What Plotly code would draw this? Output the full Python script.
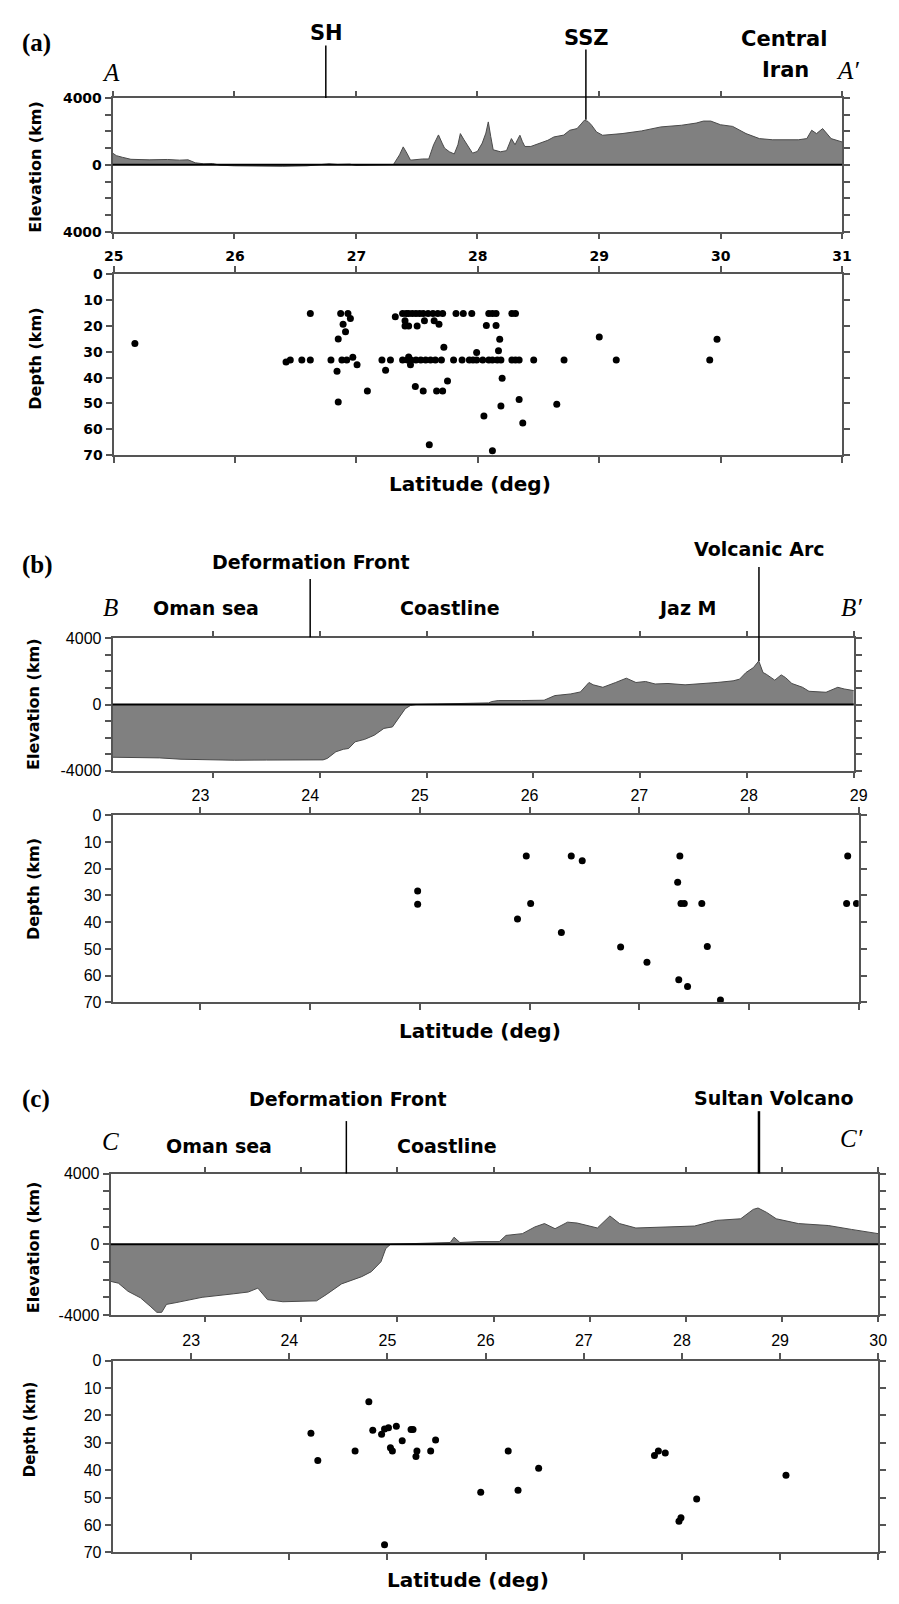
import plotly.graph_objects as go

W, H = 899, 1604


def px(x):
    return x / W


def py(y):
    return 1 - y / H


# ---------------- DATA ----------------
# Panel (a) topography profile A-A'
elev_lat_a = [25.0, 25.03, 25.08, 25.15, 25.3, 25.45, 25.55, 25.62, 25.68, 25.75, 25.82, 25.88, 26.0, 26.2,
              26.4, 26.6, 26.72, 26.78, 26.85, 26.95, 27.0, 27.1, 27.2, 27.31, 27.36, 27.39, 27.42, 27.45,
              27.55, 27.6, 27.64, 27.68, 27.71, 27.73, 27.77, 27.81, 27.84, 27.86, 27.89, 27.93, 27.96, 28.0,
              28.04, 28.07, 28.09, 28.11, 28.13, 28.19, 28.24, 28.28, 28.31, 28.33, 28.35, 28.37, 28.39, 28.44,
              28.5, 28.58, 28.63, 28.71, 28.76, 28.82, 28.86, 28.88, 28.91, 28.94, 28.98, 29.03, 29.19, 29.35,
              29.51, 29.68, 29.8, 29.86, 29.92, 30.0, 30.1, 30.21, 30.32, 30.43, 30.64, 30.71, 30.75, 30.79,
              30.84, 30.91, 31.0]
elev_a = [700, 550, 450, 330, 300, 320, 280, 300, 120, 60, 80, -20, -60, -80,
          -90, -60, 0, 60, 20, 40, -30, -20, 0, 20, 600, 1075, 700, 280,
          350, 350, 1200, 1790, 1300, 1000, 780, 650, 1200, 1870, 1500, 1000, 700, 800,
          1300, 1900, 2570, 1700, 900, 780, 850, 1570, 1200, 1500, 1770, 1400, 1100, 1100,
          1250, 1470, 1670, 1780, 2070, 2170, 2500, 2670, 2600, 2370, 1970, 1770, 1870, 2030,
          2270, 2370, 2500, 2620, 2620, 2400, 2300, 1870, 1570, 1500, 1500, 1570, 2070, 1870,
          2170, 1570, 1370]

# Panel (a) earthquake hypocentres
quake_lat_a = [25.175, 26.42, 26.455, 26.55, 26.62, 26.62, 26.79, 26.84, 26.85, 26.85, 26.87, 26.88, 26.89,
               26.91, 26.92, 26.93, 26.95, 26.97, 27.005, 27.09, 27.21, 27.24, 27.28, 27.32,
               27.38, 27.41, 27.43, 27.46, 27.49, 27.52, 27.55, 27.59, 27.63, 27.67, 27.71, 27.82, 27.88,
               27.95, 28.09, 28.12, 28.15, 28.28, 28.31,
               27.40, 27.56, 27.64,
               27.40, 27.43, 27.50, 27.68, 28.07, 28.15,
               28.18, 27.72, 27.99, 28.17, 27.43,
               27.38, 27.42, 27.45, 27.49, 27.53, 27.57, 27.61, 27.65, 27.70, 27.80, 27.87, 27.93, 27.96,
               27.99, 28.04, 28.09, 28.12, 28.16, 28.19, 28.28, 28.31, 28.34, 28.46, 28.71, 29.14, 29.91,
               27.445, 27.485, 27.55, 27.66, 27.71, 27.60, 27.75, 29.0, 29.97, 28.2, 28.34, 28.19, 28.65,
               28.05, 28.37, 28.12]
quake_dep_a = [26.8, 34, 33.2, 33.2, 33.2, 15.2, 33.2, 37.5, 25.1, 49.4, 15.2, 33.2, 19.4,
               22.3, 33.2, 15.2, 17.1, 32.1, 35, 45.2, 33.2, 37.2, 33.2, 16.5,
               15.2, 15.2, 15.2, 15.2, 15.2, 15.2, 15.2, 15.2, 15.2, 15.2, 15.2, 15.2, 15.2,
               15.2, 15.2, 15.2, 15.2, 15.2, 15.2,
               18, 18, 18,
               20, 20, 20, 19.4, 19.9, 19.9,
               25.2, 28.3, 30.3, 29.6, 32,
               33.2, 33.2, 33.2, 33.2, 33.2, 33.2, 33.2, 33.2, 33.2, 33.2, 33.2, 33.2, 33.2,
               33.2, 33.2, 33.2, 33.2, 33.2, 33.2, 33.2, 33.2, 33.2, 33.2, 33.2, 33.2, 33.2,
               35, 43.4, 45.2, 45.2, 45.2, 66, 41.3, 24.3, 25.2, 40.2, 48.5, 51, 50.3,
               54.8, 57.5, 68.3]

# Panel (b) topography profile B-B'
elev_lat_b = [22.06, 22.3, 22.5, 22.7, 22.93, 23.2, 23.5, 23.8, 24.03, 24.07, 24.15, 24.22, 24.27, 24.33,
              24.42, 24.51, 24.6, 24.68, 24.74, 24.8, 24.85, 24.9, 25.1, 25.3, 25.5, 25.58, 25.61, 25.67,
              25.89, 26.1, 26.2, 26.35, 26.44, 26.52, 26.56, 26.65, 26.77, 26.87, 26.96, 27.05, 27.14,
              27.26, 27.42, 27.57, 27.72, 27.87, 27.93, 27.99, 28.06, 28.11, 28.15, 28.18, 28.26, 28.32,
              28.36, 28.42, 28.52, 28.58, 28.74, 28.85, 28.91, 29.0]
elev_b = [-3180, -3200, -3220, -3300, -3340, -3360, -3350, -3340, -3340, -3250, -2850, -2700, -2650, -2250,
          -2100, -1850, -1440, -1350, -760, -250, -50, 0, 30, 50, 80, 100, 180, 240,
          240, 260, 540, 640, 760, 1330, 1190, 1040, 1330, 1590, 1330, 1390, 1240,
          1270, 1190, 1240, 1330, 1430, 1530, 1930, 2230, 2630, 1930, 1830, 1470, 1790,
          1630, 1270, 1040, 800, 740, 1040, 940, 840]

quake_lat_b = [24.98, 24.98, 25.97, 26.38, 26.48, 27.37, 27.35, 27.38, 27.41, 27.57, 26.01, 25.89, 26.29,
               26.83, 27.62, 27.07, 27.36, 27.44, 27.74, 28.9, 28.89, 28.98]
quake_dep_b = [28.3, 33.3, 15.2, 15.2, 17, 15.2, 25, 33, 33, 33, 33, 38.8, 43.9,
               49.3, 49.1, 55, 61.5, 64.1, 69.1, 15.2, 33, 33]

# Panel (c) topography profile C-C'
elev_lat_c = [22.02, 22.1, 22.2, 22.33, 22.43, 22.5, 22.55, 22.6, 22.7, 22.97, 23.3, 23.45, 23.55, 23.65,
              23.81, 24.16, 24.26, 24.42, 24.63, 24.73, 24.83, 24.88, 24.93, 25.2, 25.45, 25.55, 25.59,
              25.65, 25.86, 26.06, 26.13, 26.3, 26.43, 26.53, 26.64, 26.77, 26.87, 26.97, 27.08, 27.21,
              27.31, 27.48, 27.82, 28.09, 28.32, 28.57, 28.7, 28.75, 28.84, 28.94, 29.17, 29.48, 29.72, 30.0]
elev_c = [-2100, -2200, -2660, -3030, -3500, -3850, -3850, -3400, -3300, -3000, -2800, -2700, -2480, -3130,
          -3250, -3200, -2850, -2240, -1830, -1550, -990, -240, 0, 30, 50, 100, 400,
          100, 150, 150, 500, 600, 980, 1170, 880, 1250, 1200, 1060, 920, 1600,
          1170, 920, 980, 1030, 1350, 1440, 1970, 2050, 1800, 1440, 1170, 1060, 840, 600]

quake_lat_c = [24.22, 24.29, 24.67, 24.81, 24.85, 24.94, 24.97, 25.01, 25.09, 25.03, 25.05, 25.15, 25.24,
               25.26, 25.3, 25.29, 25.44, 25.49, 24.97, 25.95, 26.23, 26.33, 26.54, 27.72, 27.76, 27.83,
               28.15, 27.99, 27.97, 29.06]
quake_dep_c = [26.5, 36.5, 33, 15, 25.4, 26.9, 25, 24.5, 24, 31.8, 33, 29.3, 25.2,
               25.2, 33, 35, 33, 29, 67.2, 48, 33, 47.3, 39.3, 34.6, 33, 33.7,
               50.5, 57.3, 58.6, 41.8]

elev_ticks = [-4000, -3000, -2000, -1000, 0, 1000, 2000, 3000, 4000]
elev_ticktext_a = ["4000", "", "", "", "0", "", "", "", "4000"]
elev_ticktext_bc = ["-4000", "", "", "", "0", "", "", "", "4000"]

# ---------------- FIGURE ----------------
FILL = "#808080"
AXC = "#555555"
fig = go.Figure()

profiles = [
    (elev_lat_a, elev_a, "x", "y"),
    (elev_lat_b, elev_b, "x3", "y3"),
    (elev_lat_c, elev_c, "x5", "y5"),
]
for lat, el, xa, ya in profiles:
    fig.add_trace(go.Scatter(x=lat, y=el, mode="lines", fill="tozeroy", fillcolor=FILL,
                             line=dict(color="#4a4a4a", width=1), xaxis=xa, yaxis=ya,
                             showlegend=False, hoverinfo="skip"))

quakes = [
    (quake_lat_a, quake_dep_a, "x2", "y2"),
    (quake_lat_b, quake_dep_b, "x4", "y4"),
    (quake_lat_c, quake_dep_c, "x6", "y6"),
]
for lat, dep, xa, ya in quakes:
    fig.add_trace(go.Scatter(x=lat, y=dep, mode="markers",
                             marker=dict(color="black", size=7, line=dict(width=0)),
                             xaxis=xa, yaxis=ya, showlegend=False))

bold_font_a = dict(family="DejaVu Sans", size=14, color="black", weight="bold")
reg_font = dict(family="Liberation Sans", size=16, color="black")

common = dict(showline=True, linecolor=AXC, linewidth=2, mirror="ticks", ticks="outside",
              tickcolor=AXC, tickwidth=1.5, showgrid=False, zeroline=False)

layout = dict(
    width=W, height=H, margin=dict(l=0, r=0, t=0, b=0),
    paper_bgcolor="white", plot_bgcolor="white", showlegend=False,
)

# (a)
layout["xaxis"] = dict(**common, domain=[px(105), px(851)], range=[25, 31], dtick=1, tick0=25,
                       showticklabels=False, ticklen=5, anchor="y")
layout["yaxis"] = dict(**common, domain=[py(226), py(91)], range=[-4000, 4000], tickvals=elev_ticks,
                       ticktext=elev_ticktext_a, tickfont=bold_font_a, ticklen=6, anchor="x")
layout["xaxis2"] = dict(**common, domain=[px(106), px(851)], range=[25, 31], dtick=1, tick0=25, side="top",
                        tickfont=bold_font_a, ticklen=6, anchor="y2")
layout["yaxis2"] = dict(**common, domain=[py(452), py(269)], range=[70, 0], dtick=10, tick0=0,
                        tickfont=bold_font_a, ticklen=6, anchor="x2")
# (b)
layout["xaxis3"] = dict(**common, domain=[px(105), px(863)], range=[22.06, 29], dtick=1, tick0=23,
                        showticklabels=False, ticklen=5, anchor="y3")
layout["yaxis3"] = dict(**common, domain=[py(771), py(637)], range=[-4000, 4000], tickvals=elev_ticks,
                        ticktext=elev_ticktext_bc, tickfont=reg_font, ticklen=6, anchor="x3")
layout["xaxis4"] = dict(**common, domain=[px(105), px(868)], range=[22.2, 29], dtick=1, tick0=23, side="top",
                        tickfont=reg_font, ticklen=6, anchor="y4")
layout["yaxis4"] = dict(**common, domain=[py(1005), py(816)], range=[70, 0], dtick=10, tick0=0,
                        tickfont=reg_font, ticklen=6, anchor="x4")
# (c)
layout["xaxis5"] = dict(**common, domain=[px(103), px(888)], range=[22.02, 30], dtick=1, tick0=23,
                        showticklabels=False, ticklen=5, anchor="y5")
layout["yaxis5"] = dict(**common, domain=[py(1321), py(1178)], range=[-4000, 4000], tickvals=elev_ticks,
                        ticktext=elev_ticktext_bc, tickfont=reg_font, ticklen=6, anchor="x5")
layout["xaxis6"] = dict(**common, domain=[px(105), px(888)], range=[22.2, 30], dtick=1, tick0=23, side="top",
                        tickfont=reg_font, ticklen=6, anchor="y6")
layout["yaxis6"] = dict(**common, domain=[py(1561), py(1367)], range=[70, 0], dtick=10, tick0=0,
                        tickfont=reg_font, ticklen=6, anchor="x6")

fig.update_layout(**layout)

# zero lines on elevation panels
shapes = []
for xa, ya in [("x", "y"), ("x3", "y3"), ("x5", "y5")]:
    shapes.append(dict(type="line", xref=f"{xa} domain", yref=ya, x0=0, x1=1, y0=0, y1=0,
                       line=dict(color="black", width=2), layer="above"))

# leader lines (pixel positions)
leaders = [
    (323, 38, 91, 1.5),     # SH
    (589, 42, 113, 1.5),    # SSZ
    (307, 577, 636, 1.5),   # Deformation Front (b)
    (766, 565, 660, 1.5),   # Volcanic Arc
    (344, 1125, 1178, 1.5),  # Deformation Front (c)
    (766, 1115, 1178, 2.5),  # Sultan Volcano
]
for x, y0, y1, w in leaders:
    shapes.append(dict(type="line", xref="paper", yref="paper", x0=px(x), x1=px(x), y0=py(y0), y1=py(y1),
                       line=dict(color="black", width=w)))
fig.update_layout(shapes=shapes)

ann = []


def add_text(text, x, y, size, family="DejaVu Sans", angle=0, xanchor="center"):
    ann.append(dict(text=text, x=px(x), y=py(y), xref="paper", yref="paper", showarrow=False,
                    xanchor=xanchor, yanchor="middle", textangle=angle,
                    font=dict(family=family, size=size, color="black")))


SERIF = "Liberation Serif"
# panel (a)
add_text("<b>(a)</b>", 27, 35, 25, SERIF)
add_text("<i>A</i>", 103, 65, 25, SERIF)
add_text("<b>SH</b>", 324, 25, 21)
add_text("<b>SSZ</b>", 590, 30, 21)
add_text("<b>Central</b>", 792, 31, 21)
add_text("<b>Iran</b>", 793, 63, 21)
add_text("<i>A′</i>", 857, 63, 25, SERIF)
add_text("<b>Elevation (km)</b>", 26, 160, 16, angle=-90)
add_text("<b>Depth (km)</b>", 26, 354, 16, angle=-90)
add_text("<b>Latitude (deg)</b>", 470, 481, 20)
# panel (b)
add_text("<b>(b)</b>", 28, 563, 25, SERIF)
add_text("<b>Deformation Front</b>", 308, 560, 19)
add_text("<i>B</i>", 103, 606, 25, SERIF)
add_text("<b>Oman sea</b>", 200, 606, 19)
add_text("<b>Coastline</b>", 450, 606, 19)
add_text("<b>Jaz M</b>", 692, 606, 19)
add_text("<b>Volcanic Arc</b>", 767, 547, 19)
add_text("<i>B′</i>", 861, 606, 25, SERIF)
add_text("<b>Elevation (km)</b>", 24, 703, 16, angle=-90)
add_text("<b>Depth (km)</b>", 24, 890, 16, angle=-90)
add_text("<b>Latitude (deg)</b>", 481, 1034, 20)
# panel (c)
add_text("<b>(c)</b>", 27, 1103, 25, SERIF)
add_text("<b>Deformation Front</b>", 346, 1103, 19)
add_text("<i>C</i>", 103, 1146, 25, SERIF)
add_text("<b>Oman sea</b>", 214, 1150, 19)
add_text("<b>Coastline</b>", 447, 1150, 19)
add_text("<b>Sultan Volcano</b>", 781, 1102, 19)
add_text("<i>C′</i>", 861, 1143, 25, SERIF)
add_text("<b>Elevation (km)</b>", 24, 1252, 16, angle=-90)
add_text("<b>Depth (km)</b>", 20, 1437, 15, angle=-90)
add_text("<b>Latitude (deg)</b>", 468, 1589, 20)

fig.update_layout(annotations=ann)

fig.write_html("out.html")
